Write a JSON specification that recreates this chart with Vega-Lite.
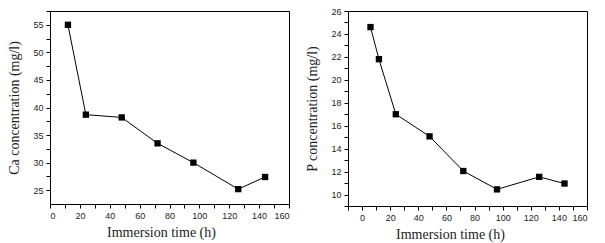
{
  "$schema": "https://vega.github.io/schema/vega-lite/v6.json",
  "background": "white",
  "padding": {"left": 7, "top": 6, "right": 5, "bottom": 2},
  "datasets": {
    "ca": [
      {"time": 12, "conc": 55.0},
      {"time": 24, "conc": 38.7},
      {"time": 48, "conc": 38.2},
      {"time": 72, "conc": 33.5},
      {"time": 96, "conc": 30.0},
      {"time": 126, "conc": 25.2},
      {"time": 144, "conc": 27.4}
    ],
    "p": [
      {"time": 6, "conc": 24.6},
      {"time": 12, "conc": 21.8},
      {"time": 24, "conc": 17.0},
      {"time": 48, "conc": 15.07},
      {"time": 72, "conc": 12.05},
      {"time": 96, "conc": 10.45},
      {"time": 126, "conc": 11.54},
      {"time": 144, "conc": 10.96}
    ]
  },
  "config": {
    "view": {"stroke": "black", "strokeWidth": 1},
    "axis": {
      "grid": false,
      "domainColor": "black",
      "tickColor": "black",
      "tickSize": 4,
      "labelFont": "Liberation Sans",
      "labelFontSize": 9,
      "labelColor": "#222",
      "titleFont": "Liberation Serif",
      "titleFontSize": 14,
      "titleFontWeight": "normal",
      "titleColor": "#222",
      "labelPadding": 3
    },
    "axisY": {"titlePadding": 11},
    "axisX": {"titlePadding": 5, "titleAlign": "center"}
  },
  "spacing": 15,
  "hconcat": [
    {
      "width": 239,
      "height": 193,
      "data": {"name": "ca"},
      "encoding": {
        "x": {
          "field": "time", "type": "quantitative",
          "scale": {"domain": [0, 160], "nice": false, "zero": false},
          "axis": {
            "title": "Immersion time (h)",
            "values": [0,10,20,30,40,50,60,70,80,90,100,110,120,130,140,150,160],
            "labelExpr": "datum.value % 20 == 0 ? datum.label : ''",
            "titleX": 111
          }
        },
        "y": {
          "field": "conc", "type": "quantitative",
          "scale": {"domain": [22.5, 57.5], "nice": false, "zero": false},
          "axis": {
            "title": "Ca concentration (mg/l)",
            "values": [25,27.5,30,32.5,35,37.5,40,42.5,45,47.5,50,52.5,55,57.5],
            "labelExpr": "datum.value % 5 == 0 ? datum.label : ''"
          }
        }
      },
      "layer": [
        {"mark": {"type": "line", "color": "black", "strokeWidth": 1}},
        {"mark": {"type": "point", "shape": "square", "filled": true, "color": "black", "size": 40, "opacity": 1}}
      ]
    },
    {
      "width": 239,
      "height": 195,
      "data": {"name": "p"},
      "encoding": {
        "x": {
          "field": "time", "type": "quantitative",
          "scale": {"domain": [-10, 160], "nice": false, "zero": false},
          "axis": {
            "title": "Immersion time (h)",
            "values": [-10,0,10,20,30,40,50,60,70,80,90,100,110,120,130,140,150,160],
            "labelExpr": "datum.value % 20 == 0 ? datum.label : ''",
            "titleX": 102
          }
        },
        "y": {
          "field": "conc", "type": "quantitative",
          "scale": {"domain": [9, 26], "nice": false, "zero": false},
          "axis": {
            "title": "P concentration (mg/l)",
            "values": [9,10,11,12,13,14,15,16,17,18,19,20,21,22,23,24,25,26],
            "labelExpr": "datum.value % 2 == 0 ? datum.label : ''"
          }
        }
      },
      "layer": [
        {"mark": {"type": "line", "color": "black", "strokeWidth": 1}},
        {"mark": {"type": "point", "shape": "square", "filled": true, "color": "black", "size": 40, "opacity": 1}}
      ]
    }
  ]
}
